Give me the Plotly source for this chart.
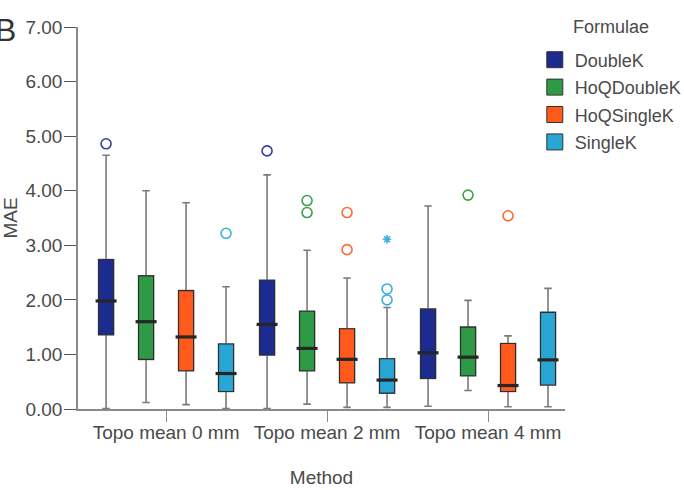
import plotly.graph_objects as go

# ---- data ----
methods = ["Topo mean 0 mm", "Topo mean 2 mm", "Topo mean 4 mm"]
formulae = ["DoubleK", "HoQDoubleK", "HoQSingleK", "SingleK"]
colors = ["#1b2b8f", "#2f9a46", "#ff5a1c", "#2aa6d6"]
outlier_colors = ["#3a3aa6", "#3aa04e", "#ff6a34", "#3ab0dc"]

# per formula: values for each method
q1 = {
    "DoubleK":    [1.36, 0.99, 0.56],
    "HoQDoubleK": [0.91, 0.70, 0.61],
    "HoQSingleK": [0.70, 0.48, 0.32],
    "SingleK":    [0.32, 0.29, 0.44],
}
median = {
    "DoubleK":    [1.98, 1.55, 1.03],
    "HoQDoubleK": [1.60, 1.11, 0.95],
    "HoQSingleK": [1.32, 0.91, 0.43],
    "SingleK":    [0.65, 0.53, 0.90],
}
q3 = {
    "DoubleK":    [2.74, 2.36, 1.83],
    "HoQDoubleK": [2.44, 1.79, 1.50],
    "HoQSingleK": [2.17, 1.47, 1.20],
    "SingleK":    [1.19, 0.92, 1.77],
}
lower = {
    "DoubleK":    [0.01, 0.01, 0.05],
    "HoQDoubleK": [0.12, 0.09, 0.34],
    "HoQSingleK": [0.08, 0.03, 0.04],
    "SingleK":    [0.01, 0.03, 0.04],
}
upper = {
    "DoubleK":    [4.65, 4.29, 3.72],
    "HoQDoubleK": [4.00, 2.91, 1.99],
    "HoQSingleK": [3.78, 2.40, 1.34],
    "SingleK":    [2.24, 1.86, 2.21],
}
# outliers: (method index, value)
outliers = {
    "DoubleK":    [(0, 4.86), (1, 4.73)],
    "HoQDoubleK": [(1, 3.82), (1, 3.60), (2, 3.92)],
    "HoQSingleK": [(1, 3.60), (1, 2.92), (2, 3.54)],
    "SingleK":    [(0, 3.22), (1, 2.20), (1, 2.00)],
}
extremes = {
    "SingleK": [(1, 3.11)],
}

y_ticks = [0, 1, 2, 3, 4, 5, 6, 7]

# ---- layout parameters ----
slot = 0.2484       # spacing between boxes within a group (category units)
box_w = 0.093       # box width (category units)
FONT = "Liberation Sans, Arial, sans-serif"
TXT = "#4a4a4a"
AX = "#8a8a8a"
FS = 19
LFS = 18

fig = go.Figure()
n = len(formulae)
for k, f in enumerate(formulae):
    off = (k - (n - 1) / 2) * slot
    xs = [i + off for i in range(len(methods))]
    # whiskers (gray)
    fig.add_trace(go.Box(
        x=xs, q1=q1[f], median=median[f], q3=q3[f],
        lowerfence=lower[f], upperfence=upper[f],
        width=box_w, whiskerwidth=0.5,
        fillcolor=colors[k], line=dict(color="#7a7a7a", width=1.6),
        boxpoints=False, showlegend=False, hoverinfo="skip",
    ))
    # box body with dark outline
    fig.add_trace(go.Box(
        x=xs, q1=q1[f], median=median[f], q3=q3[f],
        lowerfence=q1[f], upperfence=q3[f],
        width=box_w, whiskerwidth=0,
        fillcolor=colors[k], line=dict(color="#2e2e2e", width=1.1),
        boxpoints=False, showlegend=False, hoverinfo="skip",
    ))
    # thick median
    fig.add_trace(go.Scatter(
        x=xs, y=median[f], mode="markers",
        marker=dict(symbol="line-ew-open", size=15, color="#262626",
                    line=dict(color="#262626", width=3.2)),
        showlegend=False, hoverinfo="skip",
    ))
    # outliers
    if outliers.get(f):
        fig.add_trace(go.Scatter(
            x=[m + off for m, _ in outliers[f]],
            y=[v for _, v in outliers[f]],
            mode="markers",
            marker=dict(symbol="circle-open", size=10,
                        line=dict(color=outlier_colors[k], width=1.6),
                        color=outlier_colors[k]),
            showlegend=False, hoverinfo="skip",
        ))
    if extremes.get(f):
        fig.add_trace(go.Scatter(
            x=[m + off for m, _ in extremes[f]],
            y=[v for _, v in extremes[f]],
            mode="markers",
            marker=dict(symbol="asterisk-open", size=7, color=outlier_colors[k],
                        line=dict(color=outlier_colors[k], width=1.6)),
            showlegend=False, hoverinfo="skip",
        ))
    # legend entry
    fig.add_trace(go.Scatter(
        x=[None], y=[None], mode="markers", name=f, legendgroup=f,
        marker=dict(symbol="square", size=16, color=colors[k],
                    line=dict(color="#333333", width=1)),
    ))

fig.update_layout(
    width=684, height=490,
    margin=dict(l=78, r=119, t=27, b=81, autoexpand=False),
    paper_bgcolor="white", plot_bgcolor="white",
    font=dict(family=FONT, size=FS, color=TXT),
    showlegend=True,
    legend=dict(
        x=0.938, xanchor="left", y=0.962, yanchor="top",
        font=dict(size=LFS, color=TXT),
        bgcolor="rgba(0,0,0,0)", itemwidth=30, tracegroupgap=1,
    ),
    xaxis=dict(
        range=[-0.547, 2.478], tickmode="array",
        tickvals=list(range(len(methods))), ticktext=methods,
        tickangle=0, automargin=False, ticklabelstandoff=-6,
        showgrid=False, zeroline=False, showline=True,
        linecolor=AX, linewidth=1.6,
        ticks="outside", ticklen=11, tickcolor=AX, tickwidth=1.4,
        tickfont=dict(size=FS, color=TXT),
        title=dict(text="Method", font=dict(size=FS, color=TXT), standoff=29),
    ),
    yaxis=dict(
        range=[0, 7], tickmode="array", tickvals=y_ticks,
        ticktext=[f"{v:.2f}" for v in y_ticks],
        automargin=False, ticklabelstandoff=-2,
        showgrid=False, zeroline=False, showline=True,
        linecolor=AX, linewidth=1.6,
        ticks="outside", ticklen=12, tickcolor="#555555", tickwidth=1.4,
        tickfont=dict(size=FS, color=TXT),
        title=dict(text="MAE", font=dict(size=FS, color=TXT), standoff=6),
    ),
    annotations=[
        dict(text="B", xref="paper", yref="paper", x=-0.149, y=1.045,
             xanchor="center", yanchor="top", showarrow=False,
             font=dict(size=32, color="#333333")),
        dict(text="Formulae", xref="paper", yref="paper", x=1.012, y=1.0,
             xanchor="left", yanchor="middle", showarrow=False,
             font=dict(size=LFS, color=TXT)),
    ],
)

fig.write_html("out.html")
